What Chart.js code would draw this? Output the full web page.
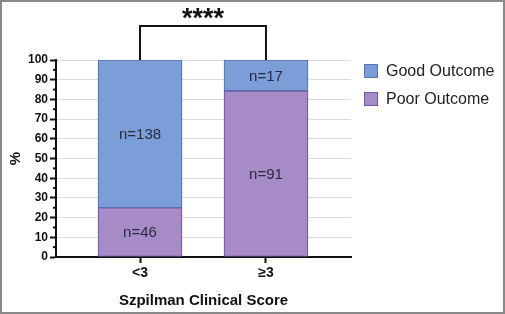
<!DOCTYPE html>
<html>
<head>
<meta charset="utf-8">
<script src="https://cdn.jsdelivr.net/npm/chart.js@4/dist/chart.umd.min.js"></script>
<style>
  html, body { margin: 0; padding: 0; background: #fff; }
  #wrap { width: 505px; height: 314px; position: relative; }
</style>
</head>
<body>
<div id="wrap"><canvas id="chart"></canvas></div>
<script>
'use strict';

// categories and values
const categories = ['<3', '\u22653'];
const poorPct = [25, 84.3];
const goodPct = [75, 15.7];
const poorN = [46, 91];
const goodN = [138, 17];
const yTicks = [0, 10, 20, 30, 40, 50, 60, 70, 80, 90, 100];
const significance = '****';

const GOOD = '#7b9ed8';
const GOOD_EDGE = '#5a73b5';
const POOR = '#a78bc7';
const POOR_EDGE = '#6f58a8';
const FONT = '"Liberation Sans", Arial, sans-serif';

// background + frame
const framePlugin = {
  id: 'frame',
  beforeDraw(chart) {
    const ctx = chart.ctx;
    ctx.save();
    ctx.fillStyle = '#fff';
    ctx.fillRect(0, 0, chart.width, chart.height);
    ctx.strokeStyle = '#8a8a8a';
    ctx.lineWidth = 2;
    ctx.strokeRect(1, 1, chart.width - 2, chart.height - 2);
    ctx.restore();
  },
};

// minor ticks on y, n= labels, bracket, legend
const extrasPlugin = {
  id: 'extras',
  afterDraw(chart) {
    const ctx = chart.ctx;
    const y = chart.scales.y;
    const x = chart.scales.x;
    const area = chart.chartArea;
    ctx.save();

    // minor ticks
    ctx.strokeStyle = '#111';
    ctx.lineWidth = 2;
    for (let i = 0; i < yTicks.length - 1; i++) {
      const py = y.getPixelForValue((yTicks[i] + yTicks[i + 1]) / 2);
      ctx.beginPath();
      ctx.moveTo(area.left - 3, py);
      ctx.lineTo(area.left, py);
      ctx.stroke();
    }

    // n= labels inside segments
    ctx.fillStyle = '#2a2a40';
    ctx.font = '15px ' + FONT;
    ctx.textAlign = 'center';
    ctx.textBaseline = 'middle';
    chart.data.datasets.forEach((ds, di) => {
      const meta = chart.getDatasetMeta(di);
      meta.data.forEach((bar, i) => {
        const counts = di === 0 ? poorN : goodN;
        ctx.fillText('n=' + counts[i], bar.x, (bar.y + bar.base) / 2 + 1);
      });
    });

    // significance bracket
    const x0 = x.getPixelForValue(0);
    const x1 = x.getPixelForValue(1);
    const top = area.top - 34;
    ctx.strokeStyle = '#111';
    ctx.lineWidth = 2;
    ctx.beginPath();
    ctx.moveTo(x0, area.top);
    ctx.lineTo(x0, top);
    ctx.lineTo(x1, top);
    ctx.lineTo(x1, area.top);
    ctx.stroke();
    ctx.fillStyle = '#111';
    ctx.font = 'bold 27px ' + FONT;
    ctx.textBaseline = 'alphabetic';
    ctx.fillText(significance, (x0 + x1) / 2, top + 1);

    // legend (Good on top)
    const items = [
      { text: 'Good Outcome', fill: GOOD, edge: GOOD_EDGE },
      { text: 'Poor Outcome', fill: POOR, edge: POOR_EDGE },
    ];
    ctx.font = '16px ' + FONT;
    ctx.textAlign = 'left';
    ctx.textBaseline = 'middle';
    items.forEach((it, i) => {
      const ly = 64 + i * 28;
      ctx.fillStyle = it.fill;
      ctx.fillRect(364, ly, 14, 14);
      ctx.strokeStyle = it.edge;
      ctx.lineWidth = 1;
      ctx.strokeRect(364.5, ly + 0.5, 13, 13);
      ctx.fillStyle = '#222';
      ctx.fillText(it.text, 386, ly + 7.5);
    });

    ctx.restore();
  },
};

new Chart(document.getElementById('chart'), {
  type: 'bar',
  data: {
    datasets: [
      {
        label: 'Poor Outcome',
        data: poorPct.map((v, i) => ({ x: i, y: v })),
        backgroundColor: POOR,
        borderColor: POOR_EDGE,
        borderWidth: 1.2,
        borderSkipped: false,
        barThickness: 84,
      },
      {
        label: 'Good Outcome',
        data: goodPct.map((v, i) => ({ x: i, y: v })),
        backgroundColor: GOOD,
        borderColor: GOOD_EDGE,
        borderWidth: 1.2,
        borderSkipped: false,
        barThickness: 84,
      },
    ],
  },
  options: {
    responsive: true,
    maintainAspectRatio: false,
    animation: false,
    layout: { padding: { top: 60, right: 154, left: 0, bottom: 0 } },
    plugins: {
      legend: { display: false },
      tooltip: { enabled: false },
    },
    scales: {
      x: {
        type: 'linear',
        stacked: true,
        offset: false,
        min: -0.667,
        max: 1.675,
        afterBuildTicks: (scale) => {
          scale.ticks = categories.map((c, i) => ({ value: i }));
        },
        afterFit: (scale) => { scale.height = 57; },
        ticks: {
          callback: (v) => categories[v],
          color: '#111',
          font: { family: FONT, size: 14, weight: 'bold' },
          padding: 2,
          maxRotation: 0,
        },
        grid: {
          offset: false,
          drawOnChartArea: false,
          tickLength: 6,
          tickColor: '#111',
          tickWidth: 2,
        },
        border: { color: '#111', width: 2 },
        title: {
          display: true,
          text: 'Szpilman Clinical Score',
          color: '#111',
          font: { family: FONT, size: 15, weight: 'bold' },
          padding: { top: 1 },
        },
      },
      y: {
        stacked: true,
        min: 0,
        max: 100,
        afterBuildTicks: (scale) => {
          scale.ticks = yTicks.map(v => ({ value: v }));
        },
        afterFit: (scale) => { scale.width = 56; },
        ticks: {
          color: '#111',
          font: { family: FONT, size: 12, weight: 'bold' },
          padding: 2,
        },
        grid: {
          color: (c) => c.tick && c.tick.value === 0 ? 'rgba(0,0,0,0)' : '#dcdcdc',
          lineWidth: 1,
          tickLength: 6,
          tickColor: '#111',
          tickWidth: 2,
        },
        border: { color: '#111', width: 2 },
        title: {
          display: true,
          text: '%',
          color: '#111',
          font: { family: FONT, size: 15, weight: 'bold' },
          padding: { top: 7, bottom: 0 },
        },
      },
    },
  },
  plugins: [framePlugin, extrasPlugin],
});
</script>
</body>
</html>
